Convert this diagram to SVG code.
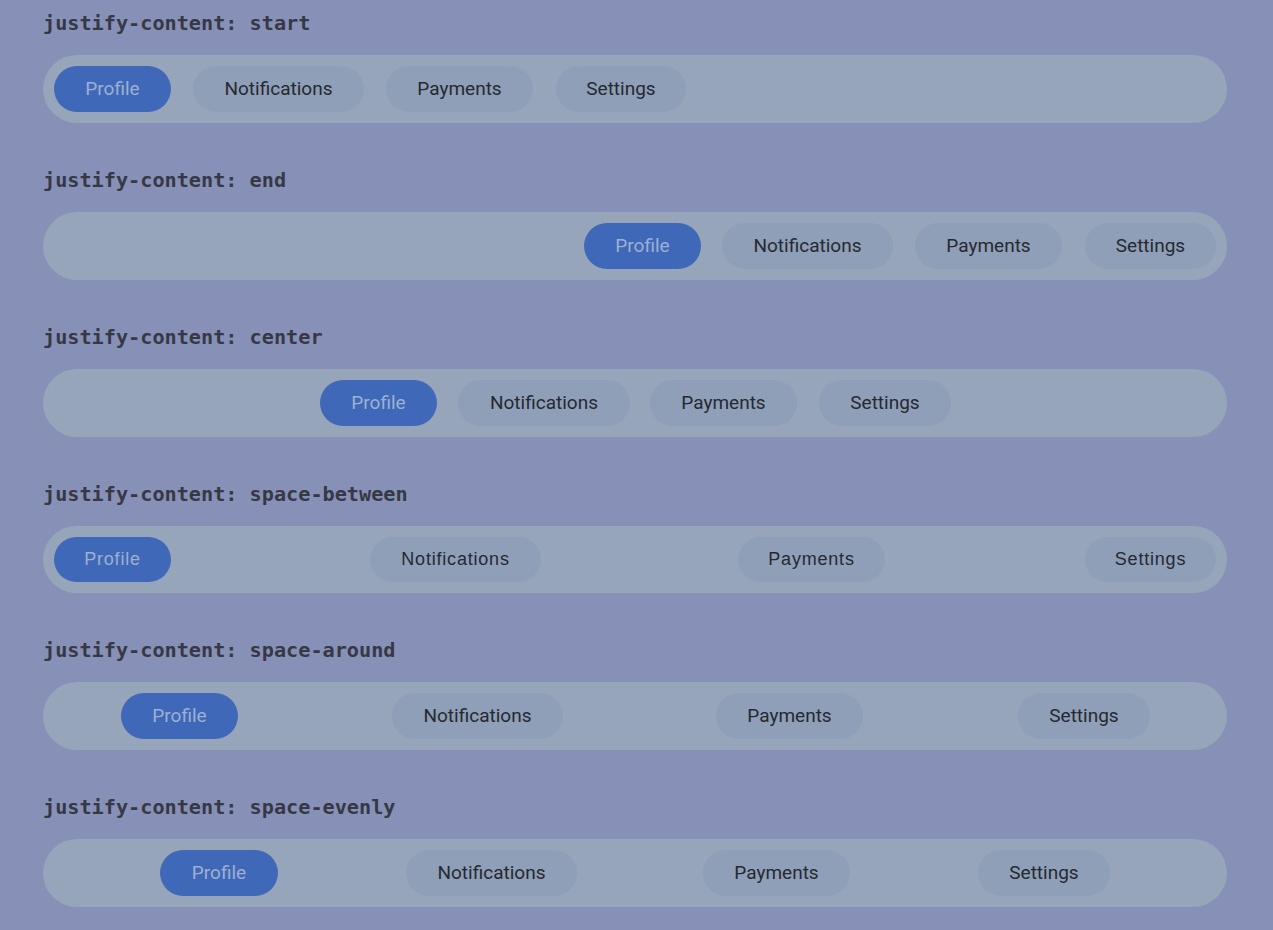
<svg xmlns="http://www.w3.org/2000/svg" width="1273" height="930" viewBox="0 0 1273 930">
<style>
.bg{fill:#8790b7}
.bar{fill:#97a5bb}
.chip{fill:#8e9fb7}
.act{fill:#4068b8}
.lbl{font-family:"DejaVu Sans Mono","Liberation Mono",monospace;font-weight:bold;font-size:20.2px;fill:#363945}
.t{font-family:Roboto,"Liberation Sans",sans-serif;font-size:19px;fill:#262931;text-anchor:middle}
.t2{font-family:"Liberation Sans",Arial,sans-serif;font-size:18px;letter-spacing:0.8px;fill:#262931;text-anchor:middle}
.ta{fill:#9db0d2}
</style>
<rect class="bg" x="0" y="0" width="1273" height="930"/>

<g id="row-start">
<text class="lbl" x="43" y="30">justify-content: start</text>
<rect class="bar" x="43" y="55" width="1184" height="68" rx="34"/>
<g id="start-profile"><rect class="act" x="54" y="66" width="117" height="46" rx="23"/><text class="t ta" x="112.5" y="95">Profile</text></g>
<g id="start-notifications"><rect class="chip" x="193" y="66" width="171" height="46" rx="23"/><text class="t" x="278.5" y="95">Notifications</text></g>
<g id="start-payments"><rect class="chip" x="386" y="66" width="147" height="46" rx="23"/><text class="t" x="459.5" y="95">Payments</text></g>
<g id="start-settings"><rect class="chip" x="556" y="66" width="130" height="46" rx="23"/><text class="t" x="621" y="95">Settings</text></g>
</g>

<g id="row-end">
<text class="lbl" x="43" y="187">justify-content: end</text>
<rect class="bar" x="43" y="212" width="1184" height="68" rx="34"/>
<g id="end-profile"><rect class="act" x="584" y="223" width="117" height="46" rx="23"/><text class="t ta" x="642.5" y="252">Profile</text></g>
<g id="end-notifications"><rect class="chip" x="722" y="223" width="171" height="46" rx="23"/><text class="t" x="807.5" y="252">Notifications</text></g>
<g id="end-payments"><rect class="chip" x="915" y="223" width="147" height="46" rx="23"/><text class="t" x="988.5" y="252">Payments</text></g>
<g id="end-settings"><rect class="chip" x="1085" y="223" width="131" height="46" rx="23"/><text class="t" x="1150.5" y="252">Settings</text></g>
</g>

<g id="row-center">
<text class="lbl" x="43" y="344">justify-content: center</text>
<rect class="bar" x="43" y="369" width="1184" height="68" rx="34"/>
<g id="center-profile"><rect class="act" x="320" y="380" width="117" height="46" rx="23"/><text class="t ta" x="378.5" y="409">Profile</text></g>
<g id="center-notifications"><rect class="chip" x="458" y="380" width="172" height="46" rx="23"/><text class="t" x="544" y="409">Notifications</text></g>
<g id="center-payments"><rect class="chip" x="650" y="380" width="147" height="46" rx="23"/><text class="t" x="723.5" y="409">Payments</text></g>
<g id="center-settings"><rect class="chip" x="819" y="380" width="132" height="46" rx="23"/><text class="t" x="885" y="409">Settings</text></g>
</g>

<g id="row-space-between">
<text class="lbl" x="43" y="501">justify-content: space-between</text>
<rect class="bar" x="43" y="526" width="1184" height="67" rx="33.5"/>
<g id="between-profile"><rect class="act" x="54" y="537" width="117" height="45" rx="22.5"/><text class="t2 ta" x="112.5" y="565">Profile</text></g>
<g id="between-notifications"><rect class="chip" x="370" y="537" width="171" height="45" rx="22.5"/><text class="t2" x="455.5" y="565">Notifications</text></g>
<g id="between-payments"><rect class="chip" x="738" y="537" width="147" height="45" rx="22.5"/><text class="t2" x="811.5" y="565">Payments</text></g>
<g id="between-settings"><rect class="chip" x="1085" y="537" width="131" height="45" rx="22.5"/><text class="t2" x="1150.5" y="565">Settings</text></g>
</g>

<g id="row-space-around">
<text class="lbl" x="43" y="657">justify-content: space-around</text>
<rect class="bar" x="43" y="682" width="1184" height="68" rx="34"/>
<g id="around-profile"><rect class="act" x="121" y="693" width="117" height="46" rx="23"/><text class="t ta" x="179.5" y="722">Profile</text></g>
<g id="around-notifications"><rect class="chip" x="392" y="693" width="171" height="46" rx="23"/><text class="t" x="477.5" y="722">Notifications</text></g>
<g id="around-payments"><rect class="chip" x="716" y="693" width="147" height="46" rx="23"/><text class="t" x="789.5" y="722">Payments</text></g>
<g id="around-settings"><rect class="chip" x="1018" y="693" width="132" height="46" rx="23"/><text class="t" x="1084" y="722">Settings</text></g>
</g>

<g id="row-space-evenly">
<text class="lbl" x="43" y="814">justify-content: space-evenly</text>
<rect class="bar" x="43" y="839" width="1184" height="68" rx="34"/>
<g id="evenly-profile"><rect class="act" x="160" y="850" width="118" height="46" rx="23"/><text class="t ta" x="219" y="879">Profile</text></g>
<g id="evenly-notifications"><rect class="chip" x="406" y="850" width="171" height="46" rx="23"/><text class="t" x="491.5" y="879">Notifications</text></g>
<g id="evenly-payments"><rect class="chip" x="703" y="850" width="147" height="46" rx="23"/><text class="t" x="776.5" y="879">Payments</text></g>
<g id="evenly-settings"><rect class="chip" x="978" y="850" width="132" height="46" rx="23"/><text class="t" x="1044" y="879">Settings</text></g>
</g>

<g id="connectors"></g>
</svg>
